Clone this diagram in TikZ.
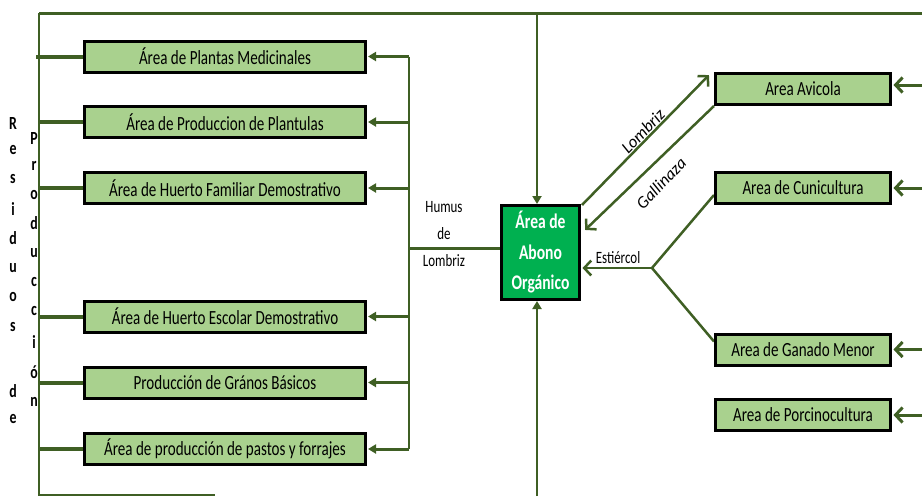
\documentclass[tikz,border=0pt]{standalone}
\usepackage{fontspec}
\setmainfont{Carlito}[FakeStretch=0.75]
\newfontfamily\plainfont{Carlito}
\usetikzlibrary{arrows.meta,calc,backgrounds}
\definecolor{lineg}{HTML}{3F5F24}
\definecolor{boxg}{HTML}{A9D18E}
\definecolor{abonog}{HTML}{00B050}
\tikzset{
  area/.style={draw=black, line width=3pt, fill=boxg, minimum height=31pt,
    inner sep=0pt, font=\fontsize{20.1}{22}\selectfont},
  leftarea/.style={area, minimum width=281pt},
  rightarea/.style={area, minimum width=175pt},
  flow/.style={draw=lineg, line width=2pt},
  feed/.style={draw=lineg, line width=3pt, shorten >=1pt,
    -{Triangle[length=8pt,width=9pt]}},
  stub/.style={draw=lineg, line width=4pt},
  barb/.style={draw=lineg, line width=2.5pt, shorten >=1.5pt,
    -{Straight Barb[length=7pt,width=15pt]}},
  small/.style={font=\fontsize{17.3}{27}\selectfont, inner sep=0pt},
  slanted/.style={font=\plainfont\itshape\fontsize{17}{20}\selectfont,
    inner sep=0pt, rotate=46},
  vlet/.style={font=\bfseries\fontsize{18.5}{20}\selectfont, inner sep=0pt},
}
\begin{document}
\begin{tikzpicture}[x=1pt,y=-1pt]
\useasboundingbox (0,0) rectangle (922,496);

% plant production areas
\node[leftarea] (pm) at (225,56.5)  {Área de Plantas Medicinales};
\node[leftarea] (pp) at (225,122)   {Área de Produccion de Plantulas};
\node[leftarea] (hf) at (225,188)   {Área de Huerto Familiar Demostrativo};
\node[leftarea] (he) at (225,316.5) {Área de Huerto Escolar Demostrativo};
\node[leftarea] (gb) at (225,382.5) {Producción de Grános Básicos};
\node[leftarea] (pf) at (225,449)   {Área de producción de pastos y forrajes};

% central compost unit
\node[draw=black, line width=3pt, fill=abonog, minimum width=78pt,
  minimum height=94pt, align=center, text=white, inner sep=0pt,
  font=\bfseries\fontsize{20.8}{30.5}\selectfont]
  (ab) at (540.5,252.5) {Área de\\Abono\\Orgánico};

% animal production areas
\node[rightarea] (av) at (803,89)    {Area Avicola};
\node[rightarea] (cu) at (803,188)   {Area de Cunicultura};
\node[rightarea] (gm) at (803,349.5) {Area de Ganado Menor};
\node[rightarea] (po) at (803,415)   {Area de Porcinocultura};

% helper points
\coordinate (tl) at (39,13);
\coordinate (tr) at (922,13);
\coordinate (bl) at (39,495);
\coordinate (be) at (215,495);
\coordinate (rx) at (409,0);
\coordinate (rr) at (922,0);
\coordinate (hm) at (409,248);
\coordinate (ta) at (537,13);
\coordinate (ba) at (537,496);
\coordinate (sp) at (652,268);

\begin{scope}[on background layer]
  % residue collection loop
  \draw[flow, line width=3pt] (tr) -- (tl);
  \draw[flow] (tl) -- (bl) -- (be);
  \draw[stub] ($(pm.west -| tl)+(-3,0)$) -- (pm.west);
  \foreach \n in {pp,hf,he,gb,pf}
    \draw[stub] (\n.west -| tl) -- (\n.west);

  % humus distribution
  \draw[flow] (pm.east -| rx) -- (pf.east -| rx);
  \foreach \n in {pm,pp,hf,he,gb,pf}
    \draw[feed] (\n.east -| rx) -- (\n.east);
  \draw[flow, line width=3pt] (hm) -- (hm -| ab.west);

  % inputs to the compost unit
  \draw[flow, -{Triangle[length=8pt,width=9pt]}] (ta) -- (ta |- ab.north);
  \draw[flow, -{Triangle[length=8pt,width=9pt]}] (ba) -- (ba |- ab.south);
  \draw[barb] ($(ab.north east)+(1,1)$) -- ($(av.north west)+(-4,2)$);
  \draw[barb] (av.south west) -- ($(ab.north east)+(3,27)$);
  \draw[barb] (sp) -- (sp -| ab.east);
  \draw[flow, line width=2.5pt] ($(cu.west)+(0,7)$) -- (sp) -- ($(gm.west)+(0,-8)$);

  % external inputs to the animal areas
  \draw[barb, line width=3pt] (rr |- 0,85) -- (av.east |- 0,85);
  \foreach \n in {cu,gm,po}
    \draw[barb, line width=3pt] (\n.east -| rr) -- (\n.east);
\end{scope}

% flow labels
\node[slanted] (lbl) at (643,131) {Lombriz};
\node[slanted] (glb) at (661,183) {Gallinaza};
\node[small, anchor=base] (est) at (618,263) {Estiércol};
\node[small, align=center] (hum) at (444,234) {Humus\\de\\Lombriz};

% vertical captions
\foreach \ch/\yy [count=\k] in {R/123,e/150,s/179,i/209,d/238,u/268,o/297,s/327,d/391,e/419}
  \node[vlet] (res\k) at (13,\yy) {\ch};
\foreach \ch/\yy [count=\k] in {P/138,r/166,o/195,d/223,u/253,c/282,c/311,i/342,ó/372,n/402}
  \node[vlet] (pro\k) at (34,\yy) {\ch};
\end{tikzpicture}
\end{document}
